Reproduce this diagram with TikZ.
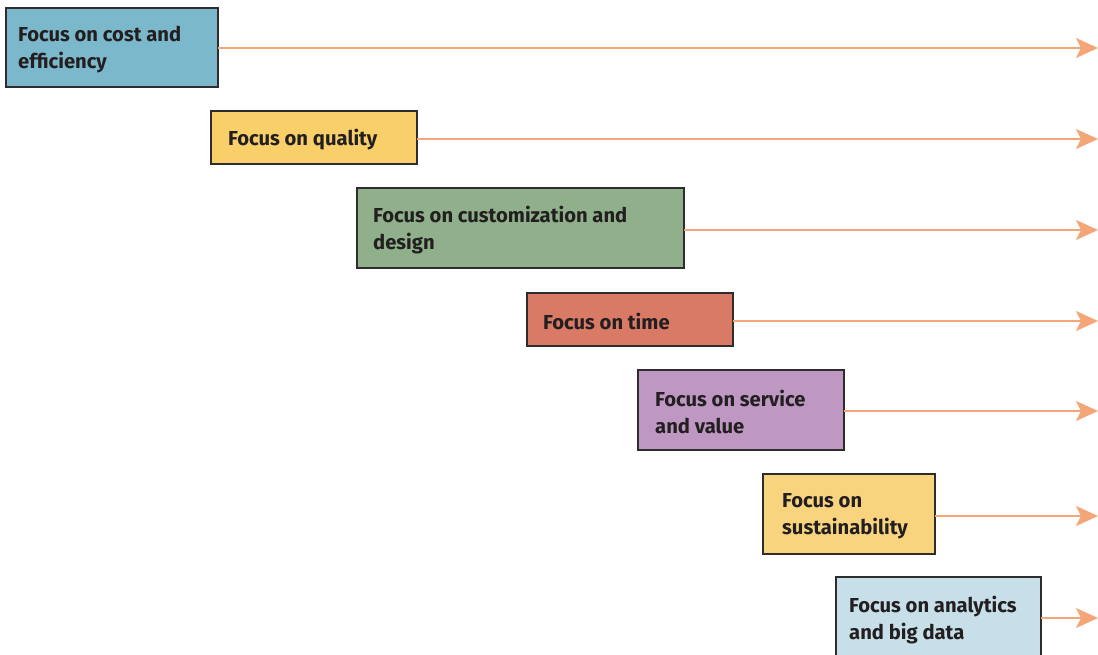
\documentclass[tikz,border=0pt]{standalone}
\usepackage{fontspec}
\setmainfont{Fira Sans}
\usetikzlibrary{arrows.meta}
\definecolor{costc}{HTML}{7BB8CB}
\definecolor{qualc}{HTML}{F8CF69}
\definecolor{custc}{HTML}{8FB08A}
\definecolor{timec}{HTML}{D97A66}
\definecolor{servc}{HTML}{BE98C3}
\definecolor{sustc}{HTML}{F9D47E}
\definecolor{anac}{HTML}{C7DFE9}
\definecolor{arrowc}{HTML}{F4A679}
\definecolor{inkc}{HTML}{231F20}
\definecolor{framec}{HTML}{2E2C2D}
\tikzset{
  focusbox/.style={draw=framec, line width=1.1pt, rectangle, anchor=north west,
    inner sep=0pt, outer sep=0pt},
  focustext/.style={anchor=west, align=left, inner sep=0pt, text=inkc,
    yshift=-2pt, font=\fontsize{20.2}{27}\selectfont\bfseries},
  trend/.style={draw=arrowc, line width=1.4pt,
    -{Stealth[length=22pt, width=20pt, inset=5pt]}}
}
\begin{document}
\begin{tikzpicture}[x=1pt, y=-1pt]
\useasboundingbox (0,0) rectangle (1098,654);
\clip (0,0) rectangle (1098,654);
% coloured boxes
\node[focusbox, fill=costc, minimum width=212pt, minimum height=79pt] (cost) at (6,8) {};
\node[focusbox, fill=qualc, minimum width=206pt, minimum height=53pt] (qual) at (211,111) {};
\node[focusbox, fill=custc, minimum width=327pt, minimum height=80pt] (cust) at (357,188) {};
\node[focusbox, fill=timec, minimum width=206pt, minimum height=53pt] (time) at (527,293) {};
\node[focusbox, fill=servc, minimum width=206pt, minimum height=80pt] (serv) at (638,370) {};
\node[focusbox, fill=sustc, minimum width=172pt, minimum height=80pt] (sust) at (763,474) {};
\node[focusbox, fill=anac, minimum width=205pt, minimum height=82pt] (ana) at (836,577) {};
% labels inside the boxes
\node[focustext] (costtxt) at ([xshift=12pt]cost.west) {Focus on cost and\\efficiency};
\node[focustext] (qualtxt) at ([xshift=17pt]qual.west) {Focus on quality};
\node[focustext] (custtxt) at ([xshift=16pt]cust.west) {Focus on customization and\\design};
\node[focustext] (timetxt) at ([xshift=16pt]time.west) {Focus on time};
\node[focustext] (servtxt) at ([xshift=17pt]serv.west) {Focus on service\\and value};
\node[focustext] (susttxt) at ([xshift=19pt]sust.west) {Focus on\\sustainability};
\node[focustext] (anatxt) at ([xshift=13pt]ana.west) {Focus on analytics\\and big data};
% arrow ends at the right edge
\coordinate (e1) at (1098,48);
\coordinate (e2) at (1098,139);
\coordinate (e3) at (1098,230);
\coordinate (e4) at (1098,321);
\coordinate (e5) at (1098,411);
\coordinate (e6) at (1098,516);
\coordinate (e7) at (1098,618);
\draw[trend] (cost.east |- e1) -- (e1);
\draw[trend] (qual.east |- e2) -- (e2);
\draw[trend] (cust.east |- e3) -- (e3);
\draw[trend] (time.east |- e4) -- (e4);
\draw[trend] (serv.east |- e5) -- (e5);
\draw[trend] (sust.east |- e6) -- (e6);
\draw[trend] (ana.east |- e7) -- (e7);
\end{tikzpicture}
\end{document}
